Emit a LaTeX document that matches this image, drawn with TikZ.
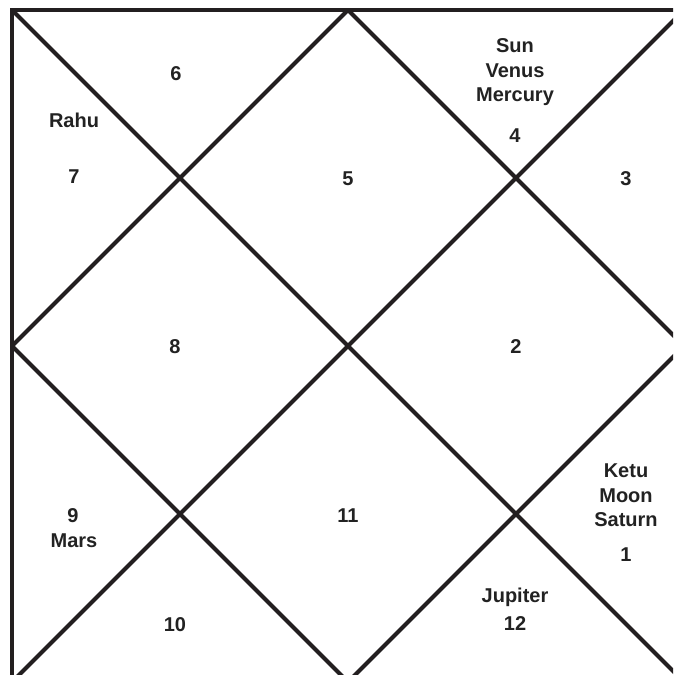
\documentclass[tikz,border=0pt]{standalone}
\usepackage{fontspec}
\setmainfont{Liberation Sans}
\definecolor{ink}{HTML}{231F20}
\definecolor{txt}{HTML}{222222}
\begin{document}
\begin{tikzpicture}[x=1pt,y=-1pt,
  chartline/.style={draw=ink,line width=4pt,line cap=butt,line join=bevel},
  lbl/.style={anchor=base,inner sep=0pt,text=txt,font=\fontsize{20}{24}\selectfont\bfseries}]
\useasboundingbox (0,0) rectangle (673,675);
\clip (0,0) rectangle (673,675);
% corners and midpoints of the chart square
\coordinate (tl) at (12,10);
\coordinate (tr) at (684,10);
\coordinate (br) at (684,682);
\coordinate (bl) at (12,682);
\coordinate (tm) at (348,10);
\coordinate (rm) at (684,346);
\coordinate (bm) at (348,682);
\coordinate (lm) at (12,346);
\draw[chartline] (tl) -- (br);
\draw[chartline] (tr) -- (bl);
\draw[chartline] (tm) -- (rm) -- (bm) -- (lm) -- cycle;
\draw[chartline,line join=miter] (tl) -- (tr) -- (br) -- (bl) -- cycle;
% house numbers and planets
\node[lbl] (h6) at (176,80) {6};
\node[lbl] (rahu) at (74,127) {Rahu};
\node[lbl] (h7) at (74,183) {7};
\node[lbl] (h5) at (348,185) {5};
\node[lbl] (sun) at (515,52) {Sun};
\node[lbl] (venus) at (515,77) {Venus};
\node[lbl] (mercury) at (515,101) {Mercury};
\node[lbl] (h4) at (515,142) {4};
\node[lbl] (h3) at (626,185) {3};
\node[lbl] (h8) at (175,353) {8};
\node[lbl] (h2) at (516,353) {2};
\node[lbl] (h9) at (73,522) {9};
\node[lbl] (mars) at (74,547) {Mars};
\node[lbl] (h11) at (348,522) {11};
\node[lbl] (ketu) at (626,477) {Ketu};
\node[lbl] (moon) at (626,502) {Moon};
\node[lbl] (saturn) at (626,526) {Saturn};
\node[lbl] (h1) at (626,561) {1};
\node[lbl] (h10) at (175,631) {10};
\node[lbl] (jupiter) at (515,602) {Jupiter};
\node[lbl] (h12) at (515,630) {12};
\end{tikzpicture}
\end{document}
